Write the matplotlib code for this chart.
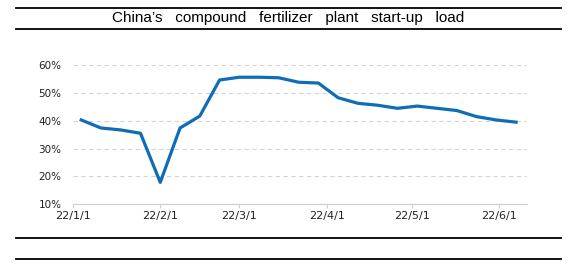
import matplotlib
matplotlib.use("Agg")
import matplotlib.pyplot as plt
import pandas as pd

# weekly start-up load (%)
dates = [
    "2022-01-04", "2022-01-11", "2022-01-18", "2022-01-25", "2022-02-01",
    "2022-02-08", "2022-02-15", "2022-02-22", "2022-03-01", "2022-03-08",
    "2022-03-15", "2022-03-22", "2022-03-29", "2022-04-05", "2022-04-12",
    "2022-04-19", "2022-04-26", "2022-05-03", "2022-05-10", "2022-05-17",
    "2022-05-24", "2022-05-31", "2022-06-07",
]
load_pct = [
    40.3, 37.4, 36.7, 35.5, 17.8,
    37.4, 41.7, 54.7, 55.7, 55.7,
    55.5, 53.9, 53.6, 48.3, 46.3,
    45.6, 44.5, 45.3, 44.5, 43.7,
    41.5, 40.3, 39.5,
]
tick_dates = ["2022-01-01", "2022-02-01", "2022-03-01", "2022-04-01", "2022-05-01", "2022-06-01"]
tick_labels = ["22/1/1", "22/2/1", "22/3/1", "22/4/1", "22/5/1", "22/6/1"]
y_ticks = [10, 20, 30, 40, 50, 60]

title = "China\u2019s   compound   fertilizer   plant   start-up   load"

x = pd.to_datetime(dates)
fig = plt.figure(figsize=(5.79, 2.63), dpi=100)
fig.patch.set_facecolor("white")

ax = fig.add_axes([0.1256, 0.2243, 0.7852, 0.5274])
ax.plot(x, load_pct, color="#0f6db5", linewidth=2.3, clip_on=False)

ax.set_xlim(pd.Timestamp("2022-01-01"), pd.Timestamp("2022-06-11"))
ax.set_ylim(10, 60)
ax.set_xticks(pd.to_datetime(tick_dates))
ax.set_xticklabels(tick_labels)
ax.set_yticks(y_ticks)
ax.set_yticklabels([f"{v}%" for v in y_ticks])

for v in y_ticks[1:]:
    ax.axhline(v, color="#d4d4d4", linewidth=0.8, linestyle=(0, (4, 3)), zorder=0)

for s in ["top", "right", "left"]:
    ax.spines[s].set_visible(False)
ax.spines["bottom"].set_color("#d0d0d0")
ax.spines["bottom"].set_linewidth(0.9)

ax.tick_params(axis="x", length=3, width=0.8, color="#d0d0d0", pad=2,
               labelsize=8, labelcolor="#222222")
ax.tick_params(axis="y", length=0, pad=8, labelsize=7.5, labelcolor="#222222")

# frame lines around title and below chart
for yy in [1 - 7.5 / 263, 1 - 28.5 / 263, 1 - 237.5 / 263, 1 - 258.5 / 263]:
    fig.add_artist(plt.Line2D([16 / 579, 561 / 579], [yy, yy], color="black", linewidth=1.3))

fig.text(288 / 579, 1 - 18.3 / 263, title, ha="center", va="center", fontsize=11,
         family=["Liberation Sans", "DejaVu Sans"], color="black")

fig.savefig("out.png", dpi=100, facecolor="white")
